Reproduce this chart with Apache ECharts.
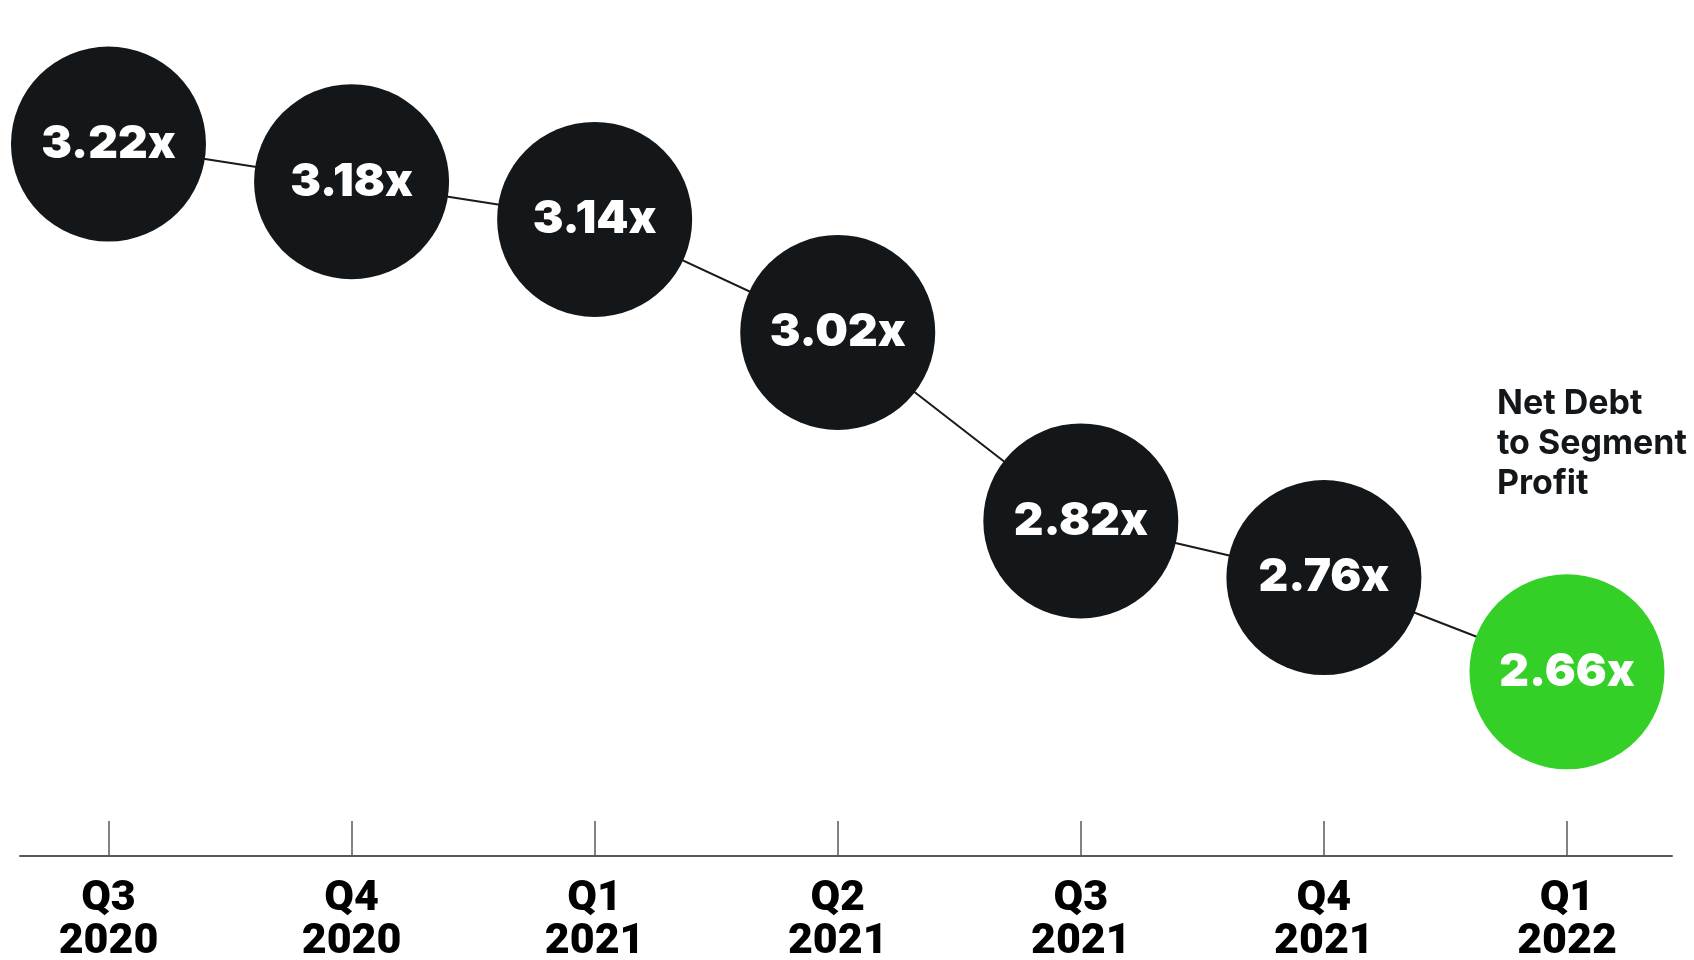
<!DOCTYPE html>
<html>
<head>
<meta charset="utf-8">
<style>
  html, body { margin: 0; padding: 0; background: #ffffff; }
  #chart { width: 1694px; height: 960px; }
</style>
<script src="https://cdn.jsdelivr.net/npm/echarts@6/dist/echarts.min.js"></script>
</head>
<body>
<div id="chart"></div>
<script>
const quarters = ['Q3', 'Q4', 'Q1', 'Q2', 'Q3', 'Q4', 'Q1'];
const years = ['2020', '2020', '2021', '2021', '2021', '2021', '2022'];
const ratios = [3.22, 3.18, 3.14, 3.02, 2.82, 2.76, 2.66];
const annotation = ['Net Debt', 'to Segment', 'Profit'];

const dark = '#141719';
const green = '#34d027';

const idx = ratios.map((_, i) => i);
const seriesData = ratios.map((v, i) => ({
  value: [i, v],
  itemStyle: { color: i === ratios.length - 1 ? green : dark }
}));

const chart = echarts.init(document.getElementById('chart'), null, { renderer: 'canvas' });
chart.setOption({
  backgroundColor: '#ffffff',
  animation: false,
  grid: { left: 20, right: 22, top: 0, bottom: 104, containLabel: false, outerBoundsMode: 'none' },
  xAxis: {
    type: 'value',
    min: -0.364,
    max: 6.432,
    splitLine: { show: false },
    axisLine: { show: true, lineStyle: { color: '#5a5a5a', width: 2 } },
    axisTick: {
      show: true, inside: true, length: 35,
      customValues: idx,
      lineStyle: { color: '#5a5a5a', width: 1.5 }
    },
    axisLabel: {
      customValues: idx,
      margin: 22,
      color: '#000000',
      fontFamily: 'Roboto, "DejaVu Sans Condensed", sans-serif',
      fontWeight: 900,
      fontSize: 43,
      lineHeight: 43,
      formatter: (v) => {
        const i = Math.round(v);
        return quarters[i] + '\n' + years[i];
      }
    }
  },
  yAxis: {
    type: 'value',
    min: 2.4645,
    max: 3.3728,
    show: false
  },
  title: {
    text: annotation.join('\n'),
    left: 1492,
    top: 379,
    textStyle: {
      color: dark,
      fontFamily: 'Inter, "Noto Sans", sans-serif',
      fontWeight: 700,
      fontSize: 34,
      lineHeight: 40
    }
  },
  series: [{
    type: 'line',
    data: seriesData,
    clip: false,
    symbol: 'circle',
    symbolSize: 195,
    lineStyle: { color: '#1a1a1a', width: 2 },
    label: {
      show: true,
      position: 'inside',
      color: '#ffffff',
      fontFamily: 'Inter, Roboto, sans-serif',
      fontWeight: 900,
      fontSize: 46,
      formatter: (p) => p.value[1].toFixed(2) + 'x'
    },
    z: 3
  }]
});
</script>
</body>
</html>
